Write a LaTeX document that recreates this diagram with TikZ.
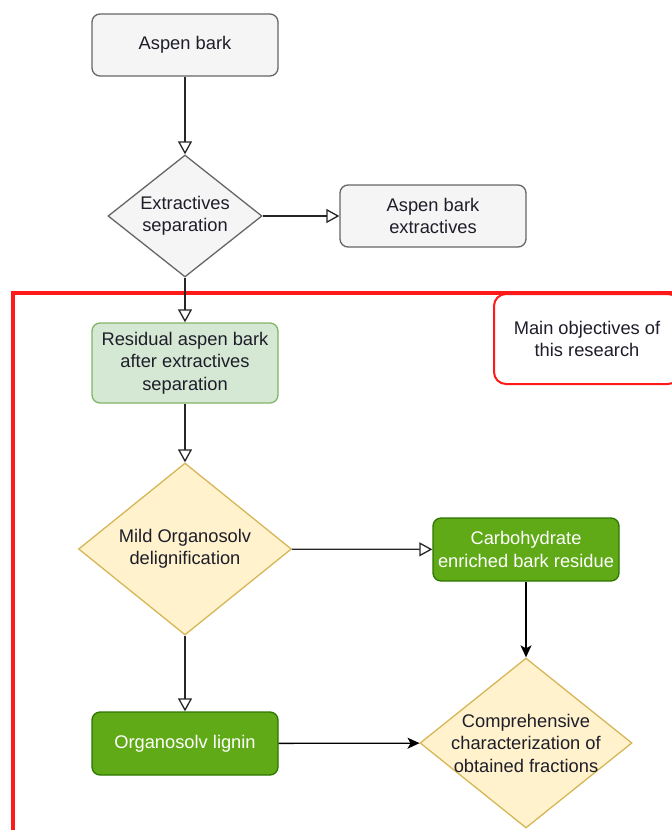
\documentclass[tikz,border=0pt]{standalone}
\usepackage{fontspec}
\setmainfont{Liberation Sans}
\usetikzlibrary{arrows.meta, shapes.geometric, positioning}
\usepackage{xcolor}
\definecolor{grayfill}{HTML}{F5F5F5}
\definecolor{grayline}{HTML}{666666}
\definecolor{lgreenfill}{HTML}{D5E8D4}
\definecolor{lgreenline}{HTML}{82B366}
\definecolor{dgreenfill}{HTML}{60A917}
\definecolor{dgreenline}{HTML}{2D7600}
\definecolor{yellowfill}{HTML}{FFF2CC}
\definecolor{yellowline}{HTML}{D6B656}
\definecolor{framered}{HTML}{FF1A1A}
\definecolor{txt}{HTML}{1E1E2A}

\begin{document}
\begin{tikzpicture}[x=1pt, y=-1pt, font=\fontsize{18.3}{22.5}\selectfont, text=txt,
  box/.style={draw, rounded corners=8pt, line width=1.3pt, align=center,
    minimum width=186pt, inner sep=1pt},
  dia/.style={diamond, draw, line width=1.3pt, align=center, inner sep=-4pt},
  graybox/.style={box, fill=grayfill, draw=grayline},
  greenbox/.style={box, fill=lgreenfill, draw=lgreenline},
  darkbox/.style={box, fill=dgreenfill, draw=dgreenline, text=white},
  graydia/.style={dia, fill=grayfill, draw=grayline},
  yellowdia/.style={dia, fill=yellowfill, draw=yellowline},
  flow/.style={draw=black!85, line width=1.3pt, -{Triangle[open, length=13pt, width=14pt]}},
  flowfull/.style={draw=black, line width=1.3pt, -{Stealth[length=12pt, width=11pt, inset=3pt]}}]
  \useasboundingbox (0,0) rectangle (672,830);

  % Draw the red frame round the main objectives
  \draw[framered, line width=3.2pt] (700,293) -| (13,860);
  \node[draw=framered, fill=white, line width=2pt, rounded corners=12pt, align=center,
    minimum width=186pt, minimum height=90pt] (aim) at (587,339)
    {Main objectives of\\this research};

  % Extraction step
  \node[graybox, minimum height=62pt] (bark) at (185,45) {Aspen bark};
  \node[graydia, minimum width=154pt, minimum height=122pt] (sep) at (185,216)
    {Extractives\\separation};
  \node[graybox, minimum height=62pt] (ext) at (433,216) {Aspen bark\\extractives};

  % Delignification step
  \node[greenbox, minimum height=80pt] (res) at (185,363)
    {Residual aspen bark\\after extractives\\separation};
  \node[yellowdia, minimum width=213pt, minimum height=172pt] (mild) at (185,549)
    {Mild Organosolv\\delignification};
  \node[darkbox, minimum height=63pt] (carb) at (526,549.5)
    {Carbohydrate\\enriched bark residue};
  \node[darkbox, minimum height=63pt] (lig) at (185,743.5) {Organosolv lignin};
  \node[yellowdia, minimum width=212pt, minimum height=170pt, inner xsep=-24pt,
    inner ysep=-4pt] (comp) at (526,743)
    {Comprehensive\\characterization of\\obtained fractions};

  % Connect the steps
  \draw[flow] (bark) -- (sep);
  \draw[flow] (sep) -- (ext);
  \draw[flow] (sep) -- (res);
  \draw[flow] (res) -- (mild);
  \draw[flow] (mild) -- (carb);
  \draw[flow] (mild) -- (lig);
  \draw[flowfull] (carb) -- (comp);
  \draw[flowfull] (lig) -- (comp);

\end{tikzpicture}
\end{document}
